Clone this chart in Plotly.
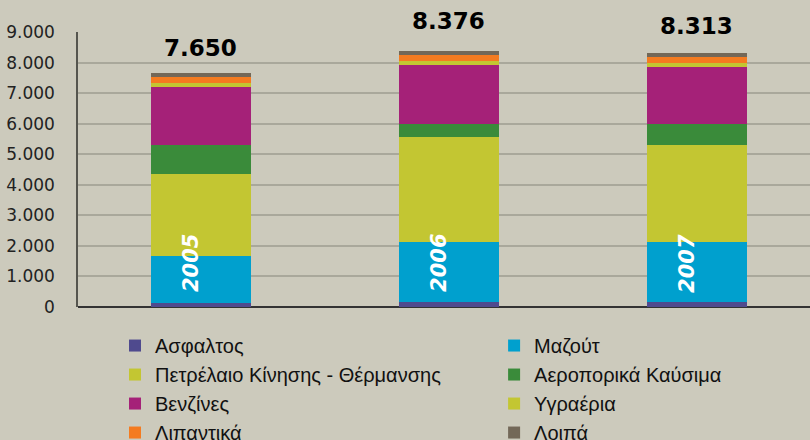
import plotly.graph_objects as go

years = ["2005", "2006", "2007"]
totals = [7650, 8376, 8313]
total_labels = ["7.650", "8.376", "8.313"]

series_names = ["Ασφαλτος", "Μαζούτ", "Πετρέλαιο Κίνησης - Θέρμανσης", "Αεροπορικά Καύσιμα",
                "Βενζίνες", "Υγραέρια", "Λιπαντικά", "Λοιπά"]
asfaltos = [120, 172, 172]
mazout = [1546, 1958, 1958]
petrelaio = [2672, 3441, 3182]
aeroporika = [964, 423, 682]
venzines = [1912, 1938, 1873]
ygraeria = [133, 130, 130]
lipantika = [185, 194, 195]
loipa = [118, 120, 121]

series_values = [asfaltos, mazout, petrelaio, aeroporika, venzines, ygraeria, lipantika, loipa]
colors = ["#4F4A8E", "#00A0CE", "#C3C632", "#3A8B3A", "#A52178", "#C3C632", "#F47B20", "#736858"]
legend_ids = ["legend", "legend2", "legend", "legend2", "legend", "legend2", "legend", "legend2"]

tick_vals = [0, 1000, 2000, 3000, 4000, 5000, 6000, 7000, 8000, 9000]

bg = "#CCCABC"

fig = go.Figure()
x = [0, 1, 2]
for i, (name, vals, col, lg) in enumerate(zip(series_names, series_values, colors, legend_ids)):
    fig.add_trace(go.Bar(x=x, y=vals, name=name, marker=dict(color=col, line=dict(width=0)),
                         width=0.405, hoverinfo="skip", legend=lg, legendgroup="g%d" % i))

yshifts = [10, 15, 12]
for xi, tot, lab, ys in zip(x, totals, total_labels, yshifts):
    fig.add_annotation(x=xi, y=tot, text="<b>" + lab + "</b>", showarrow=False,
                       yanchor="bottom", yshift=ys,
                       font=dict(family="DejaVu Sans", size=23, color="#000000"))

for xi, yr in zip(x, years):
    fig.add_annotation(x=xi, y=1440, text="<b><i>" + yr + "</i></b>", showarrow=False,
                       textangle=-90, xshift=-10,
                       font=dict(family="DejaVu Sans", size=21, color="#FFFFFF"))

legend_font = dict(family="Liberation Sans", size=20, color="#111111")
common_legend = dict(orientation="v", xref="container", yref="container",
                     xanchor="left", yanchor="top", y=0.259,
                     font=legend_font, bgcolor="rgba(0,0,0,0)",
                     traceorder="normal", tracegroupgap=3)

fig.update_layout(
    width=810, height=440,
    barmode="stack",
    paper_bgcolor=bg, plot_bgcolor=bg,
    margin=dict(l=78, r=0, t=32, b=133, autoexpand=False),
    separators=",.",
    showlegend=True,
    legend=dict(x=0.142, **common_legend),
    legend2=dict(x=0.610, **common_legend),
    xaxis=dict(range=[-0.496, 2.456], showticklabels=False, showgrid=False, zeroline=False,
               showline=False, fixedrange=True),
    yaxis=dict(range=[0, 9000], tickvals=tick_vals, tickformat=",d",
               showgrid=True, gridcolor="#A9A89B", gridwidth=1.5,
               zeroline=True, zerolinecolor="#333333", zerolinewidth=2,
               showline=True, linecolor="#55554E", linewidth=1.5,
               ticks="", ticklabelstandoff=18,
               tickfont=dict(family="DejaVu Sans", size=17, color="#222222")),
)

fig.write_html("out.html", config={"displayModeBar": False},
               post_script="document.body.style.margin='0';document.body.style.overflow='hidden';document.body.style.background='" + bg + "';")
